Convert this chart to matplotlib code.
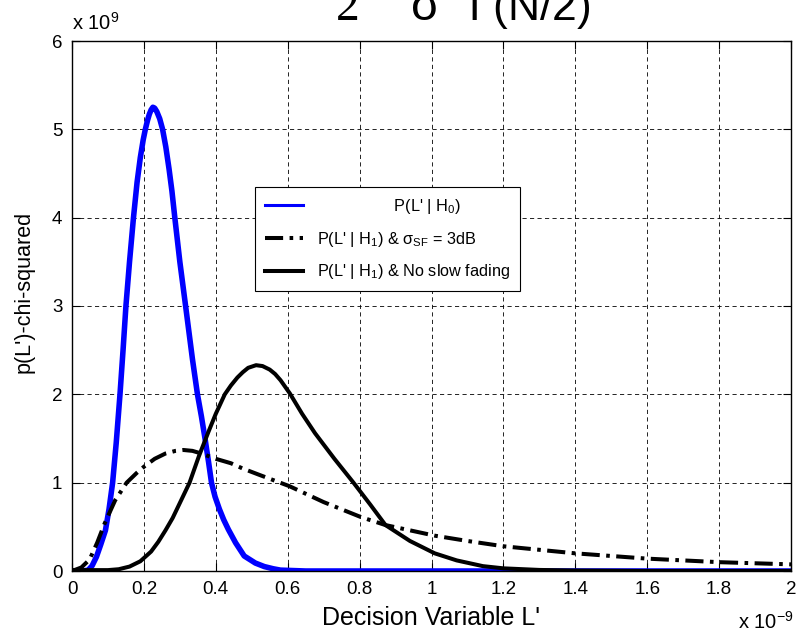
import matplotlib
matplotlib.use('Agg')
import matplotlib.pyplot as plt

# ---- data (x in units of 1e-9, y in units of 1e9) ----
h0_x = [0, 0.03, 0.045, 0.056, 0.068, 0.08, 0.093, 0.103, 0.113, 0.123, 0.1335, 0.142,
        0.150, 0.160, 0.171, 0.181, 0.19, 0.198, 0.204, 0.210, 0.215, 0.220, 0.225,
        0.230, 0.236, 0.244, 0.252, 0.261, 0.27, 0.278, 0.286, 0.30, 0.316, 0.335,
        0.349, 0.36, 0.37, 0.38, 0.388, 0.398, 0.41, 0.422, 0.435, 0.455, 0.479, 0.51,
        0.535, 0.56, 0.58, 0.65, 0.8, 1.0, 1.5, 2.0]
h0_y = [0, 0, 0.01, 0.06, 0.16, 0.3, 0.46, 0.7, 1.0, 1.45, 2.0, 2.5,
        3.0, 3.5, 4.0, 4.4, 4.68, 4.88, 5.0, 5.1, 5.17, 5.22, 5.25,
        5.24, 5.2, 5.12, 5.0, 4.8, 4.55, 4.3, 4.0, 3.5, 3.0, 2.4,
        2.0, 1.75, 1.5, 1.23, 1.0, 0.84, 0.7, 0.58, 0.47, 0.32, 0.17, 0.09,
        0.05, 0.025, 0.01, 0, 0, 0, 0, 0]

sf_x = [0, 0.026, 0.049, 0.07, 0.091, 0.12, 0.152, 0.18, 0.2, 0.23, 0.26, 0.288, 0.31,
        0.335, 0.36, 0.4, 0.442, 0.475, 0.52, 0.605, 0.7, 0.804, 0.872, 1.009, 1.1,
        1.2, 1.4, 1.6, 1.8, 2.0]
sf_y = [0, 0.04, 0.13, 0.32, 0.54, 0.8, 1.0, 1.11, 1.18, 1.27, 1.33, 1.36, 1.37,
        1.36, 1.33, 1.27, 1.22, 1.16, 1.09, 0.96, 0.78, 0.61, 0.52, 0.40, 0.34,
        0.28, 0.20, 0.14, 0.10, 0.075]

nsf_x = [0, 0.1, 0.13, 0.16, 0.19, 0.22, 0.24, 0.26, 0.28, 0.30, 0.327, 0.353, 0.38,
         0.40, 0.425, 0.442, 0.46, 0.475, 0.49, 0.512, 0.53, 0.55, 0.565, 0.58, 0.606,
         0.64, 0.676, 0.73, 0.783, 0.83, 0.872, 0.94, 1.009, 1.07, 1.143, 1.2, 1.3,
         1.4, 1.6, 2.0]
nsf_y = [0.01, 0.01, 0.02, 0.05, 0.11, 0.22, 0.33, 0.46, 0.6, 0.77, 1.0, 1.3, 1.58,
         1.78, 2.0, 2.1, 2.19, 2.25, 2.30, 2.33, 2.32, 2.28, 2.23, 2.16, 2.01,
         1.78, 1.56, 1.27, 1.0, 0.75, 0.52, 0.34, 0.20, 0.12, 0.055, 0.03, 0.012,
         0.005, 0.0, 0.0]

x_ticks = [0, 0.2, 0.4, 0.6, 0.8, 1.0, 1.2, 1.4, 1.6, 1.8, 2.0]
x_tick_labels = ['0', '0.2', '0.4', '0.6', '0.8', '1', '1.2', '1.4', '1.6', '1.8', '2']
y_ticks = [0, 1, 2, 3, 4, 5, 6]
y_tick_labels = ['0', '1', '2', '3', '4', '5', '6']

labels = ["                 P(L' | H$_0$)",
          "P(L' | H$_1$) & σ$_{SF}$ = 3dB",
          "P(L' | H$_1$) & No slow fading"]

plt.rcParams['font.family'] = ['Liberation Sans', 'DejaVu Sans']
plt.rcParams['mathtext.default'] = 'regular'

W, H = 806, 631
fig = plt.figure(figsize=(W / 100, H / 100), dpi=100)
ax = fig.add_axes([72 / W, 60 / H, (791 - 72) / W, (571 - 41) / H])

l0, = ax.plot(h0_x, h0_y, color='#0000ff', lw=4.0, solid_joinstyle='round')
l1, = ax.plot(sf_x, sf_y, color='k', lw=2.9, linestyle=(0, (4.5, 1.6, 0.9, 1.6)),
              dash_capstyle='butt')
l2, = ax.plot(nsf_x, nsf_y, color='k', lw=2.9, solid_joinstyle='round')

ax.set_xlim(0, 2)
ax.set_ylim(0, 6)
ax.set_xticks(x_ticks)
ax.set_xticklabels(x_tick_labels)
ax.set_yticks(y_ticks)
ax.set_yticklabels(y_tick_labels)
ax.tick_params(direction='in', top=True, right=True, length=6, width=0.8,
               labelsize=13.5, pad=7)
ax.grid(True, color='k', linestyle=(0, (5, 4)), linewidth=0.6)
for s in ax.spines.values():
    s.set_linewidth(1.0)

ax.set_xlabel("Decision Variable L'", fontsize=18, labelpad=6)
ax.set_ylabel("p(L')-chi-squared", fontsize=15.5)
ax.yaxis.set_label_coords(-0.0515, 0.526)

leg = ax.legend([l0, l1, l2], labels, loc='upper left',
                bbox_to_anchor=((255 - 72) / 719, (571 - 187) / 530),
                borderaxespad=0, frameon=True, fancybox=False, edgecolor='k',
                framealpha=1, handlelength=2.35, handletextpad=0.85,
                labelspacing=0.85, borderpad=0.6, fontsize=11.7)
leg.get_frame().set_linewidth(0.8)
leg.get_lines()[0].set_linewidth(2.2)

# exponent labels
fig.text(72 / W, 1 - 30 / H, "x 10$^{9}$", fontsize=14.5, ha='left', va='baseline')
fig.text(794 / W, 2.5 / H, "x 10$^{-9}$", fontsize=14.5, ha='right', va='baseline')

# cropped equation fragment at the top
fig.text(336 / W, 1 - 20 / H, "2", fontsize=34, family='Liberation Serif',
         ha='left', va='baseline')
fig.text(410 / W, 1 - 20 / H, r"$\sigma$", fontsize=34, math_fontfamily='stix',
         ha='left', va='baseline')
fig.text(468 / W, 1 - 20 / H, r"$\Gamma(N/2)$", fontsize=32, math_fontfamily='stix',
         ha='left', va='baseline')

fig.savefig('out.png', dpi=100)
